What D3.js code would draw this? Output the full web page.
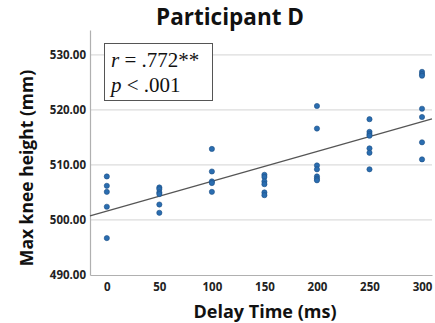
<!DOCTYPE html>
<html><head><meta charset="utf-8">
<script src="https://cdn.jsdelivr.net/npm/d3@7"></script>
<style>body{margin:0;background:#fff}svg{display:block}</style>
</head><body>
<svg id="c" width="435" height="323"></svg>
<script>
const delays = [0, 50, 100, 150, 200, 250, 300];
const heights = [
  [507.9, 506.2, 505.1, 502.4, 496.7],
  [505.9, 505.6, 505.0, 504.7, 502.8, 501.3],
  [512.9, 508.8, 507.0, 506.7, 505.1],
  [508.2, 507.8, 507.0, 506.5, 505.0, 504.5],
  [520.7, 516.6, 509.9, 509.2, 507.9, 507.5, 507.2],
  [518.3, 516.0, 515.6, 515.3, 513.0, 512.2, 509.2],
  [526.9, 526.5, 526.2, 520.2, 518.7, 514.1, 511.0]
];
const yTicks = [490, 500, 510, 520, 530];
const title = "Participant D";
const xTitle = "Delay Time (ms)";
const yTitle = "Max knee height (mm)";
const statLines = [["r", " = .772**"], ["p", " < .001"]];

const pts = [];
delays.forEach((d, i) => heights[i].forEach(h => pts.push({x: d, y: h})));

const svg = d3.select("#c");
const L = 90, R = 432, T = 30, B = 275;
const x = d3.scaleLinear().domain([-16, 309.5]).range([L, R]);
const y = d3.scaleLinear().domain([490, 534.5]).range([B, T]);

// gridlines
svg.append("g").selectAll("line").data(yTicks.slice(1)).join("line")
  .attr("x1", L).attr("x2", R).attr("y1", d => y(d)).attr("y2", d => y(d))
  .attr("stroke", "#dcdcdc").attr("stroke-width", 1.2);

// axes
const yAxis = svg.append("g").attr("transform", `translate(${L},0)`)
  .call(d3.axisLeft(y).tickValues(yTicks).tickFormat(d3.format(".2f")).tickSize(0).tickPadding(4));
const xAxis = svg.append("g").attr("transform", `translate(0,${B})`)
  .call(d3.axisBottom(x).tickValues(delays).tickFormat(d3.format("d")).tickSize(0).tickPadding(8));
[yAxis, xAxis].forEach(g => {
  g.select(".domain").attr("stroke", "#b0b0b0").attr("stroke-width", 1.2);
  g.selectAll("text").attr("font-family", "'Open Sans', sans-serif").attr("font-weight", "bold")
    .attr("font-size", 11.5).attr("fill", "#222");
});

// regression line (least squares)
const mx = d3.mean(pts, d => d.x), my = d3.mean(pts, d => d.y);
const slope = d3.sum(pts, d => (d.x - mx) * (d.y - my)) / d3.sum(pts, d => (d.x - mx) ** 2);
const icpt = my - slope * mx;
const xd = x.domain();
svg.append("line")
  .attr("x1", x(xd[0])).attr("y1", y(icpt + slope * xd[0]))
  .attr("x2", x(xd[1])).attr("y2", y(icpt + slope * xd[1]))
  .attr("stroke", "#555").attr("stroke-width", 1.2);

// points
svg.append("g").selectAll("circle").data(pts).join("circle")
  .attr("cx", d => x(d.x)).attr("cy", d => y(d.y)).attr("r", 2.6)
  .attr("fill", "#2a6db0").attr("stroke", "#1d4f85").attr("stroke-width", 0.6);

// stats box
svg.append("rect").attr("x", 104.5).attr("y", 43.5).attr("width", 108).attr("height", 57)
  .attr("fill", "#fff").attr("stroke", "#555").attr("stroke-width", 1);
statLines.forEach((s, i) => {
  const t = svg.append("text").attr("x", 111).attr("y", 67 + i * 25)
    .attr("font-family", "'Liberation Serif', serif").attr("font-size", 21).attr("fill", "#111");
  t.append("tspan").attr("font-style", "italic").text(s[0]);
  t.append("tspan").text(s[1]);
});

// titles
svg.append("text").attr("x", 230).attr("y", 25).attr("text-anchor", "middle")
  .attr("font-family", "'Open Sans', sans-serif").attr("font-weight", "bold").attr("font-size", 22.5)
  .attr("fill", "#111").text(title);
svg.append("text").attr("x", 265).attr("y", 318).attr("text-anchor", "middle")
  .attr("font-family", "'Open Sans', sans-serif").attr("font-weight", "bold").attr("font-size", 18)
  .attr("fill", "#111").text(xTitle);
svg.append("text").attr("transform", "translate(33,168) rotate(-90)").attr("text-anchor", "middle")
  .attr("font-family", "'Open Sans', sans-serif").attr("font-weight", "bold").attr("font-size", 17.5)
  .attr("fill", "#111").text(yTitle);
</script>
</body></html>
